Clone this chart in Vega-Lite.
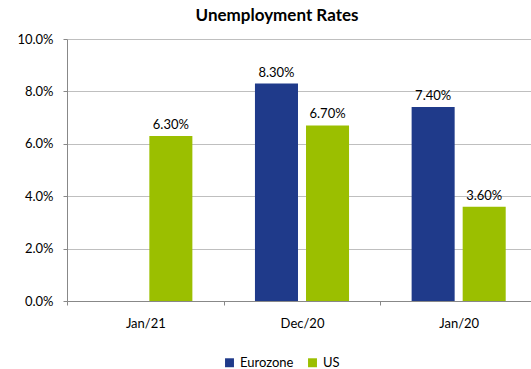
{
  "$schema": "https://vega.github.io/schema/vega-lite/v6.json",
  "width": 470,
  "height": 262,
  "padding": {"left": 5, "top": 7, "right": 0, "bottom": 0},
  "background": "white",
  "config": {"view": {"stroke": null}, "font": "Lato"},
  "title": {"text": "Unemployment Rates", "fontSize": 17, "fontWeight": "bold", "font": "Lato", "color": "#000000", "dx": -25, "offset": 8},
  "data": {"values": [
    {"period": "Jan/21", "series": "US", "rate": 0.063},
    {"period": "Dec/20", "series": "Eurozone", "rate": 0.083},
    {"period": "Dec/20", "series": "US", "rate": 0.067},
    {"period": "Jan/20", "series": "Eurozone", "rate": 0.074},
    {"period": "Jan/20", "series": "US", "rate": 0.036}
  ]},
  "encoding": {
    "x": {"field": "period", "type": "nominal", "sort": ["Jan/21", "Dec/20", "Jan/20"],
      "scale": {"paddingInner": 0, "paddingOuter": 0},
      "axis": {"title": null, "labelAngle": 0, "tickBand": "extent", "domainColor": "#888888", "tickColor": "#888888", "tickSize": 4, "labelPadding": 12, "labelFontSize": 13, "labelColor": "#000000", "grid": false}},
    "xOffset": {"field": "series", "type": "nominal", "sort": ["Eurozone", "US"], "scale": {"domain": ["Eurozone", "US"], "paddingInner": 0.157, "paddingOuter": 0.613}},
    "y": {"field": "rate", "type": "quantitative", "scale": {"domain": [0, 0.1]},
      "axis": {"title": null, "format": ".1%", "values": [0, 0.02, 0.04, 0.06, 0.08, 0.1], "tickSize": 4, "tickColor": "#888888", "domainColor": "#888888", "gridColor": "#bfbfbf", "labelPadding": 10, "labelFontSize": 13, "labelColor": "#000000", "minExtent": 62, "maxExtent": 62}}
  },
  "layer": [
    {"mark": {"type": "bar"},
     "encoding": {"color": {"field": "series", "type": "nominal", "scale": {"domain": ["Eurozone", "US"], "range": ["#1f3a8a", "#9bbf00"]},
       "legend": {"title": null, "orient": "none", "direction": "horizontal", "legendX": 156, "legendY": 317, "symbolType": "square", "symbolSize": 80, "symbolStrokeWidth": 0, "labelFontSize": 13, "labelColor": "#000000", "columnPadding": 12, "labelOffset": 4}}}},
    {"mark": {"type": "text", "baseline": "bottom", "dy": -4, "fontSize": 13, "color": "#000000"},
     "encoding": {"text": {"field": "rate", "type": "quantitative", "format": ".2%"}}}
  ]
}
